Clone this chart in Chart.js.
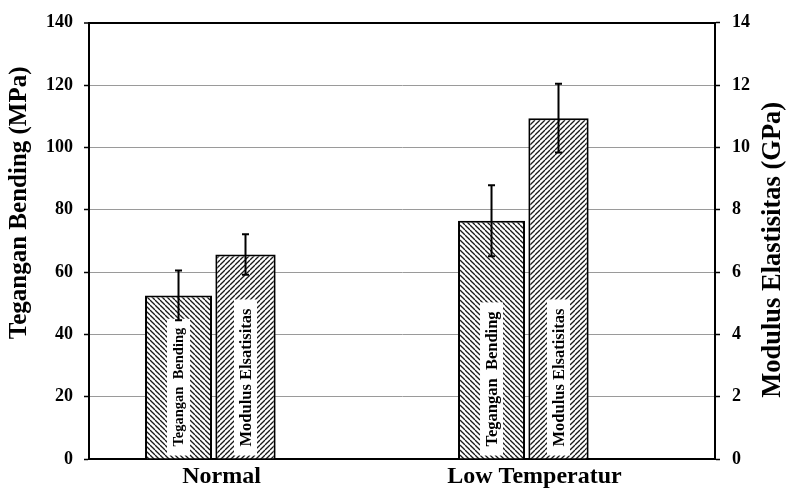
<!DOCTYPE html>
<html>
<head>
<meta charset="utf-8">
<script src="https://cdn.jsdelivr.net/npm/chart.js@4.4.1/dist/chart.umd.min.js"></script>
<style>
  html, body { margin: 0; padding: 0; background: #fff; }
  canvas { display: block; }
</style>
</head>
<body>
<canvas id="c" width="786" height="488"></canvas>
<script>
// ---- data ----
const categories = ['Normal', 'Low Temperatur'];
const teganganValues = [52.5, 76.5];      // MPa (left axis)
const teganganErrors = [8, 11.4];
const modulusValues = [6.56, 10.94];      // GPa (right axis)
const modulusErrors = [0.65, 1.1];
const leftTicks = [0, 20, 40, 60, 80, 100, 120, 140];
const rightTicks = [0, 2, 4, 6, 8, 10, 12, 14];
const barLabels = ['Tegangan  Bending', 'Modulus Elsatisitas'];
const leftTitle = 'Tegangan Bending (MPa)';
const rightTitle = 'Modulus Elastisitas (GPa)';

const SERIF = '"Liberation Serif", "Times New Roman", serif';
// font sizes of the in-bar labels, per dataset and category
const barLabelSizes = [[14.5, 16.5], [16.5, 16.5]];

function makeHatch(dir) {
  const p = 5;
  const c = document.createElement('canvas');
  c.width = p; c.height = p;
  const g = c.getContext('2d');
  g.fillStyle = '#fff';
  g.fillRect(0, 0, p, p);
  g.strokeStyle = '#1a1a1a';
  g.lineWidth = 1.3;
  for (let k = -p; k <= p; k += p) {
    g.beginPath();
    if (dir === 'back') { g.moveTo(k, 0); g.lineTo(k + p, p); }
    else { g.moveTo(k, p); g.lineTo(k + p, 0); }
    g.stroke();
  }
  return g.createPattern(c, 'repeat');
}

const ctx = document.getElementById('c').getContext('2d');
const hatchBack = makeHatch('back');
const hatchFwd = makeHatch('fwd');

const errorBarPlugin = {
  id: 'errorBars',
  afterDatasetsDraw(chart) {
    const c = chart.ctx;
    const sets = [[0, 'y', teganganValues, teganganErrors], [1, 'y1', modulusValues, modulusErrors]];
    c.save();
    c.strokeStyle = '#000';
    c.lineWidth = 2;
    sets.forEach(([di, axis, vals, errs]) => {
      const meta = chart.getDatasetMeta(di);
      const sc = chart.scales[axis];
      meta.data.forEach((bar, i) => {
        const top = sc.getPixelForValue(vals[i] + errs[i]);
        const bot = sc.getPixelForValue(vals[i] - errs[i]);
        const x = bar.x;
        c.beginPath();
        c.moveTo(x, top); c.lineTo(x, bot);
        c.moveTo(x - 3.5, top); c.lineTo(x + 3.5, top);
        c.moveTo(x - 3.5, bot); c.lineTo(x + 3.5, bot);
        c.stroke();
      });
    });
    c.restore();
  }
};

const barLabelPlugin = {
  id: 'barLabels',
  afterDatasetsDraw(chart) {
    const c = chart.ctx;
    c.save();
    [0, 1].forEach(di => {
      const meta = chart.getDatasetMeta(di);
      const txt = barLabels[di];
      meta.data.forEach((bar, i) => {
        c.font = 'bold ' + barLabelSizes[di][i] + 'px ' + SERIF;
        const w = c.measureText(txt).width;
        const boxH = w + 18;
        const boxW = 23;
        const bottom = bar.base - 3;
        c.fillStyle = '#fff';
        c.fillRect(bar.x - boxW / 2, bottom - boxH, boxW, boxH);
        c.save();
        c.translate(bar.x, bottom - boxH / 2);
        c.rotate(-Math.PI / 2);
        c.fillStyle = '#000';
        c.textAlign = 'center';
        c.textBaseline = 'middle';
        c.fillText(txt, 0, 1);
        c.restore();
      });
    });
    c.restore();
  }
};

const titlePlugin = {
  id: 'axisTitles',
  afterDraw(chart) {
    const c = chart.ctx;
    const a = chart.chartArea;
    c.save();
    c.fillStyle = '#000';
    c.textAlign = 'center';
    c.textBaseline = 'middle';
    c.save();
    c.font = 'bold 25px ' + SERIF;
    c.translate(a.left - 69, a.top + 180);
    c.rotate(-Math.PI / 2);
    c.fillText(leftTitle, 0, 0);
    c.restore();
    c.save();
    c.font = 'bold 26.5px ' + SERIF;
    c.translate(a.right + 58, a.top + 227);
    c.rotate(-Math.PI / 2);
    c.fillText(rightTitle, 0, 0);
    c.restore();
    c.restore();
  }
};

new Chart(ctx, {
  type: 'bar',
  data: {
    labels: categories,
    datasets: [
      { label: 'Tegangan Bending', data: teganganValues, yAxisID: 'y',
        backgroundColor: hatchBack, borderColor: '#000', borderWidth: 2, barPercentage: 1.0 },
      { label: 'Modulus Elastisitas', data: modulusValues, yAxisID: 'y1',
        backgroundColor: hatchFwd, borderColor: '#000', borderWidth: 2, barPercentage: 0.9 },
      { label: '', data: [null, null], yAxisID: 'y', backgroundColor: 'rgba(0,0,0,0)', borderWidth: 0 }
    ]
  },
  options: {
    responsive: false,
    animation: false,
    devicePixelRatio: 1,
    layout: { padding: { top: 20, left: 0, right: 0, bottom: 0 } },
    datasets: { bar: { categoryPercentage: 0.642 } },
    plugins: { legend: { display: false }, tooltip: { enabled: false } },
    scales: {
      x: {
        grid: { display: false },
        border: { display: true, color: '#000', width: 2 },
        ticks: { color: '#000', font: { family: SERIF, size: 24, weight: 'bold', lineHeight: 1 }, padding: -2, labelOffset: -24 },
        afterFit(s) { s.height = 29; }
      },
      y: {
        position: 'left',
        min: 0, max: 140,
        afterBuildTicks(s) { s.ticks = leftTicks.map(v => ({ value: v })); },
        ticks: { color: '#000', font: { family: SERIF, size: 18, weight: 'bold' }, padding: 11 },
        grid: {
          color: c => (c.tick && (c.tick.value === 140 || c.tick.value === 0)) ? '#000' : '#9a9a9a',
          lineWidth: c => (c.tick && c.tick.value === 140) ? 2 : 1,
          tickColor: '#000', tickLength: 5, tickWidth: 1.5
        },
        border: { display: true, color: '#000', width: 2 },
        afterFit(s) { s.width = 89; }
      },
      y1: {
        position: 'right',
        min: 0, max: 14,
        afterBuildTicks(s) { s.ticks = rightTicks.map(v => ({ value: v })); },
        ticks: { color: '#000', font: { family: SERIF, size: 18, weight: 'bold' }, padding: 12 },
        grid: { drawOnChartArea: false, tickColor: '#000', tickLength: 5, tickWidth: 1.5 },
        border: { display: true, color: '#000', width: 2 },
        afterFit(s) { s.width = 71; }
      }
    }
  },
  plugins: [barLabelPlugin, errorBarPlugin, titlePlugin]
});
</script>
</body>
</html>
